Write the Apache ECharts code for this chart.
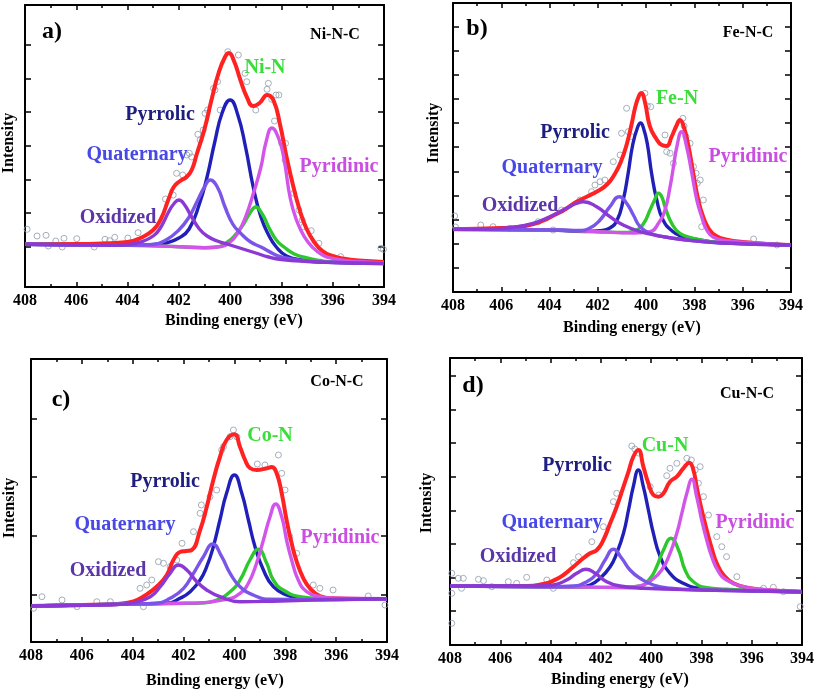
<!DOCTYPE html>
<html><head><meta charset="utf-8">
<script src="https://cdn.jsdelivr.net/npm/echarts@6/dist/echarts.min.js"></script>
<style>html,body{margin:0;padding:0;background:#fff}#c{width:817px;height:693px}</style>
</head><body><div id="c"></div>
<script>
// ---------- shared ----------
const energyTicks = [408, 406, 404, 402, 400, 398, 396, 394];
const componentNames = ['Pyrrolic', 'Quaternary', 'Oxidized', 'Pyridinic'];

// ---------- panel a : Ni-N-C ----------
const aEnvelope = [[408,43],[406,43],[405,43.5],[404,45],[403.5,49],[403,57],[402.7,68],[402.4,88],[402.2,100],[401.95,106],[401.7,110],[401.5,117],[401.3,133],[401.0,158],[400.7,190],[400.45,214],[400.2,230],[400.05,234],[399.85,226],[399.6,207],[399.35,190],[399.1,181],[398.85,184],[398.55,192],[398.3,186],[398.05,162],[397.8,130],[397.55,102],[397.3,78],[397.05,60],[396.75,46],[396.4,36],[396,31],[395.5,28],[395,26.5],[394,25]];
const aPyrrolic = [[408,42.7],[404,41.7],[403,42.5],[402.5,44],[402,49],[401.6,58],[401.2,83],[400.9,110],[400.6,145],[400.3,175],[400.0,187],[399.7,172],[399.4,140],[399.1,100],[398.8,70],[398.5,52],[398.2,40],[397.8,31],[397.2,27],[396.5,25],[394,23.7]];
const aQuaternary = [[408,42.7],[404,41.7],[403,42.5],[402.5,47],[402,57],[401.6,70],[401.3,85],[401.0,100],[400.78,107],[400.5,100],[400.2,80],[399.9,63],[399.6,54],[399.2,45],[398.8,40],[398.3,33],[398,30],[397,26],[396,24.7],[394,23.7]];
const aOxidized = [[408,42.7],[404.5,42],[404,42.5],[403.5,45],[403,51],[402.7,60],[402.4,75],[402.2,83],[402.0,87],[401.8,83],[401.5,70],[401.2,58],[400.9,51],[400.5,46],[400,42],[399.5,38],[399,34],[398.5,30],[398,27.5],[397,25.5],[396,24.5],[394,23.3]];
const aMetalN = [[408,42.7],[404,41.7],[402,40.3],[401,39.3],[400.5,40],[400.1,45],[399.8,52],[399.5,62],[399.25,73],[399.0,80],[398.75,73],[398.5,60],[398.2,47],[397.9,40],[397.5,33],[397,29],[396.5,26.5],[396,25],[394,24]];
const aPyridinic = [[408,42.7],[404,41.7],[402,40.3],[401,39.3],[400.4,40.3],[400,45],[399.7,54],[399.4,70],[399.1,93],[398.8,120],[398.6,145],[398.37,159],[398.1,148],[397.9,128],[397.65,88],[397.4,66],[397.1,50],[396.8,40],[396.4,32],[396,28.5],[395.4,26],[394.7,25],[394,24]];
const aRaw = [[407.92,57.7],[407.53,51],[407.18,51.7],[407.09,41],[406.8,46],[406.55,40],[406.48,48.7],[405.98,48.3],[405.3,40],[404.88,47.7],[404.7,46.3],[404.5,49.7],[403.99,49],[403.59,54.3],[402.52,88],[402.22,92],[402.09,113.7],[401.85,112],[401.69,132],[401.59,133.7],[401.5,130],[401.26,152.7],[401.17,147],[401.05,157],[400.98,173.7],[400.88,177],[400.65,198.7],[400.59,197],[400.49,205.3],[400.39,177],[400.09,235.3],[399.68,232],[399.42,213.7],[399.35,205.3],[399.0,177],[398.56,197.7],[398.51,203.7],[398.38,187.7],[398.27,166],[398.21,192],[398.1,192],[397.99,143.7],[397.86,127],[397.84,143.7],[397.52,93.7],[397.32,77],[397.19,67],[397.13,60.3],[396.84,56.3],[396.54,43.7],[395.69,30.3],[394.12,38.7],[394.02,37.7]];
const aIntensityTicks = [40, 74, 107, 141, 175, 208, 242];

// ---------- panel b : Fe-N-C ----------
const bEnvelope = [[408,62.7],[406,64],[405,66],[404.3,71],[403.8,77],[403.4,82],[402.9,90],[402.4,96],[402.0,101],[401.6,108],[401.3,118],[401.05,130],[400.8,148],[400.6,168],[400.45,185],[400.3,196],[400.2,199],[400.05,190],[399.85,166],[399.6,154],[399.35,147],[399.15,146],[398.95,155],[398.75,166],[398.6,172],[398.45,166],[398.25,146],[398.05,119],[397.85,93],[397.65,76],[397.4,63],[397.1,56],[396.6,52],[396,50],[395,48],[394,47]];
const bPyrrolic = [[408,62.7],[404,62],[402.5,60.5],[401.9,61.3],[401.5,64],[401.2,72],[400.95,92],[400.75,118],[400.55,148],[400.35,165],[400.23,169],[400.1,163],[399.95,148],[399.77,118],[399.56,92],[399.3,72],[398.9,60.5],[398.5,55.5],[398,53],[397,49.5],[396,48.5],[394,47]];
const bQuaternary = [[408,62.7],[404,62],[402.8,61.5],[402.33,64],[401.91,72],[401.5,85.3],[401.11,95.3],[400.81,88.7],[400.53,77],[400.25,65.3],[399.84,58.7],[399.29,55.3],[398.5,52.5],[397,49.3],[394,47]];
const bOxidized = [[408,62.7],[406.5,63],[405.65,64.3],[404.68,68.7],[403.99,75.3],[403.3,83.7],[402.9,88.5],[402.6,90.3],[402.05,85.3],[401.5,75.3],[400.95,67],[400.25,60.3],[399.29,55.3],[398.5,52.5],[397,49.3],[394,47]];
const bMetalN = [[408,62.7],[404,62],[402,60.3],[401,59.5],[400.4,62],[400.1,68.7],[399.84,82],[399.65,92],[399.49,98.7],[399.35,95],[399.22,85.3],[398.94,68.7],[398.6,58.7],[398.04,53.7],[397,49.5],[396,48.7],[394,47]];
const bPyridinic = [[408,62.7],[404,62],[402,60.3],[400.5,59],[399.84,60.3],[399.49,68.7],[399.22,82],[399.01,105],[398.87,125],[398.73,145],[398.53,160.3],[398.32,145],[398.11,119],[397.9,92],[397.7,75.3],[397.49,62],[397.21,54.7],[396.66,51.3],[395.97,49.7],[394,47]];
const bRaw = [[407.93,76],[407.9,65],[406.85,67],[406.34,65.3],[405.65,63.7],[404.47,70.3],[403.85,62],[403.5,82],[402.74,92],[402.26,100.3],[402.12,107],[401.91,110.3],[401.71,112],[401.36,130.3],[401.08,137],[401.02,158.7],[400.81,183.7],[400.74,160.3],[400.6,155.3],[400.05,198.7],[399.95,186],[399.81,185.3],[399.22,157],[399.15,140.3],[399.01,138.7],[398.87,128.7],[398.48,173.7],[398.43,166],[398.35,155.3],[398.18,148.7],[398.04,125.3],[397.93,118.7],[397.88,108.7],[397.76,112],[397.7,65.3],[397.63,92],[395.55,53],[394.58,47]];
const bIntensityTicks = [24, 48, 72, 96, 120, 145, 169, 193, 217, 241, 265];

// ---------- panel c : Co-N-C ----------
const cEnvelope = [[408,36],[406,37],[405,37.5],[404.6,38],[403.97,40.5],[403.58,45.5],[403.05,55.5],[402.66,67],[402.4,82],[402.14,90],[401.9,91],[401.68,92],[401.35,112],[401.09,135],[400.83,162],[400.57,185],[400.31,202],[400.0,207.7],[399.78,195],[399.58,182],[399.39,174],[399.13,172],[398.73,173.7],[398.54,175],[398.34,168.7],[398.14,148.7],[397.95,122],[397.75,98.7],[397.55,80.3],[397.29,63.7],[397.03,53.7],[396.64,46],[396.12,43.7],[395,43],[394,43]];
const cPyrrolic = [[408,36],[404,38],[402.66,38.7],[402.14,43.7],[401.74,50.3],[401.35,62],[401.09,75.3],[400.83,95.3],[400.57,122],[400.31,148.7],[400.0,167],[399.71,148.7],[399.45,122],[399.19,95.3],[398.86,72],[398.47,55.3],[397.95,47],[397.42,43.7],[396.5,42.5],[394,43.3]];
const cQuaternary = [[408,36],[404,38],[403.05,38.7],[402.53,43.7],[402.0,53.7],[401.61,68.7],[401.22,85.3],[400.85,98],[400.5,85.3],[400.17,68.7],[399.78,55.3],[399.26,47],[398.6,42.7],[397,42.5],[394,43.3]];
const cOxidized = [[408,36],[404.6,37.5],[403.97,39.3],[403.31,45.3],[402.92,55.3],[402.53,68.7],[402.2,77],[401.87,72],[401.48,60.3],[401.09,52],[400.57,45.3],[399.78,40.3],[398.5,40.8],[396,42.5],[394,43.3]];
const cMetalN = [[408,36],[404,38],[402,38.7],[401.35,39],[400.7,42],[400.17,50.3],[399.78,62],[399.39,82],[399.06,92.7],[398.73,78.7],[398.47,62],[398.08,52],[397.42,45.3],[396.77,43.7],[396,42.5],[394,43.3]];
const cPyridinic = [[408,36],[404,38],[402,38.7],[400.3,42.7],[399.78,48.7],[399.45,58.7],[399.13,78.7],[398.86,102],[398.6,125.3],[398.38,138],[398.14,125.3],[397.95,102],[397.75,82],[397.49,62],[397.16,50.3],[396.64,45.3],[396.12,43.7],[394,43.3]];
const cRaw = [[407.9,33.7],[407.57,45.3],[406.78,42],[406.19,35.3],[405.41,40.3],[404.88,40.3],[403.71,53.7],[403.58,35.3],[403.45,57],[403.25,62],[402.99,80.3],[402.79,78.7],[402.53,75.3],[402.27,82],[402.06,98.7],[401.61,110.3],[401.35,128.7],[401.3,137],[400.96,145.3],[400.7,152],[400.5,192],[400.43,195.3],[400.17,205.3],[400.04,212],[399.9,205],[399.1,178],[398.8,177],[398.27,187],[398.14,168.7],[398.01,152],[397.82,105.3],[397.55,88.7],[396.9,57],[396.64,53.7],[396.12,52],[394.74,46],[394.08,37]];
const cIntensityTicks = [47, 106, 165, 223];

// ---------- panel d : Cu-N-C ----------
const dEnvelope = [[408,59],[406,59],[404.95,59],[404.29,61],[403.89,64.3],[403.49,70],[403.09,78.3],[402.7,86.7],[402.43,91.7],[402.16,95],[401.9,105],[401.63,121.7],[401.37,138.3],[401.1,158.3],[400.9,173.3],[400.71,188.3],[400.51,195],[400.31,178.3],[400.11,161.7],[399.91,150],[399.71,148.3],[399.51,151.7],[399.25,163.3],[398.98,168.3],[398.72,176.7],[398.48,182.3],[398.32,175],[398.19,158.3],[397.99,135],[397.79,115],[397.59,96.7],[397.39,81.7],[397.12,70],[396.73,61.7],[396.06,56.7],[395,54.3],[394,53.3]];
const dPyrrolic = [[408,59],[404,58.3],[402.9,58],[402.43,60],[402.03,66.7],[401.63,78.3],[401.37,91.7],[401.1,111.7],[400.9,135],[400.71,158.3],[400.51,175],[400.31,158.3],[400.11,135],[399.91,111.7],[399.64,88.3],[399.25,71.7],[398.72,61.7],[398.05,56.7],[397,55],[394,53.3]];
const dQuaternary = [[408,59],[404,58.3],[403.09,59],[402.56,63.3],[402.16,71.7],[401.83,85],[401.5,95.7],[401.17,86.7],[400.84,75],[400.44,66.7],[399.91,60],[399.25,56.7],[398,55],[394,53.3]];
const dOxidized = [[408,59],[404.5,59],[403.89,60],[403.36,65],[402.96,71.7],[402.59,75.7],[402.23,71.7],[401.77,63.3],[401.24,59],[400.31,56.7],[398,55],[394,53.3]];
const dMetalN = [[408,59],[404,58.3],[401,57.5],[400.44,59],[400.04,66.7],[399.78,78.3],[399.51,95],[399.21,106.7],[398.91,95],[398.65,75],[398.32,63.3],[397.79,57.3],[397,55.7],[396,54.3],[394,53.3]];
const dPyridinic = [[408,59],[404,58.3],[401,57.5],[400.44,59],[399.98,65],[399.58,75],[399.25,91.7],[398.98,111.7],[398.78,131.7],[398.58,151.7],[398.38,165.7],[398.19,148.3],[397.99,125],[397.79,105],[397.59,88.3],[397.32,73.3],[397.0,65],[396.33,58.3],[395.67,55.7],[394,53.3]];
const dRaw = [[407.93,71.7],[407.93,51.7],[407.93,21.7],[407.67,66.7],[407.47,66.7],[407.54,56.7],[406.87,65.7],[406.67,64.3],[406.34,58.3],[405.68,63.3],[405.35,61.7],[404.95,67.7],[404.15,65],[403.89,56.7],[403.09,82.3],[402.89,88.3],[402.36,103.3],[401.9,118.3],[401.5,143.3],[401.37,151.7],[400.77,199],[400.65,196],[400.5,192],[400.04,158.3],[399.7,150],[399.38,169.3],[399.25,176.7],[398.98,181.7],[398.58,186.7],[398.4,185],[398.25,175],[398.12,161.7],[398.05,178.3],[397.92,148.3],[397.72,130],[397.39,108.3],[397.19,98.3],[397.0,88.3],[396.59,68.3],[395.53,56.7],[395.14,57.7],[394.74,53.3],[394.07,38.3]];
const dIntensityTicks = [34, 67, 101, 134, 168, 202, 235, 269];

// ---------- layout / style ----------
const FONT = '"Liberation Serif","Times New Roman",serif';
const LINE = { envelope:'#ff2222', Pyrrolic:'#2020b8', Quaternary:'#7a55ea', Oxidized:'#8c38d4', Pyridinic:'#d255ea', MetalN:'#2ec82e', raw:'#8d9cab' };
const TEXT = { Pyrrolic:'#1e1e80', Quaternary:'#4848e6', Oxidized:'#5b36a8', Pyridinic:'#cb4ee2', MetalN:'#3ade3a' };

const panels = [
  { tag:'a)', sample:'Ni-N-C', mn:'Ni-N', grid:{left:25, top:5, width:359, height:282},
    data:{envelope:aEnvelope, Pyrrolic:aPyrrolic, Quaternary:aQuaternary, Oxidized:aOxidized, MetalN:aMetalN, Pyridinic:aPyridinic, raw:aRaw}, ticks:aIntensityTicks,
    pos:{tag:[52,32], sample:[335,35], Pyrrolic:[160,115], Quaternary:[137,155], Oxidized:[118,218], Pyridinic:[339,167], MetalN:[265,68], yname:[9,143], xname:[234,321]} },
  { tag:'b)', sample:'Fe-N-C', mn:'Fe-N', grid:{left:453, top:3, width:338, height:289},
    data:{envelope:bEnvelope, Pyrrolic:bPyrrolic, Quaternary:bQuaternary, Oxidized:bOxidized, MetalN:bMetalN, Pyridinic:bPyridinic, raw:bRaw}, ticks:bIntensityTicks,
    pos:{tag:[477,29], sample:[748,33], Pyrrolic:[575,133], Quaternary:[552,168], Oxidized:[520,206], Pyridinic:[748,157], MetalN:[677,99], yname:[434,133], xname:[632,328]} },
  { tag:'c)', sample:'Co-N-C', mn:'Co-N', grid:{left:31, top:359, width:356, height:283},
    data:{envelope:cEnvelope, Pyrrolic:cPyrrolic, Quaternary:cQuaternary, Oxidized:cOxidized, MetalN:cMetalN, Pyridinic:cPyridinic, raw:cRaw}, ticks:cIntensityTicks,
    pos:{tag:[61,400], sample:[337,382], Pyrrolic:[165,482], Quaternary:[125,525], Oxidized:[108,571], Pyridinic:[340,538], MetalN:[270,436], yname:[10,508], xname:[215,681]} },
  { tag:'d)', sample:'Cu-N-C', mn:'Cu-N', grid:{left:450, top:358, width:352, height:287},
    data:{envelope:dEnvelope, Pyrrolic:dPyrrolic, Quaternary:dQuaternary, Oxidized:dOxidized, MetalN:dMetalN, Pyridinic:dPyridinic, raw:dRaw}, ticks:dIntensityTicks,
    pos:{tag:[473,386], sample:[747,394], Pyrrolic:[577,466], Quaternary:[552,523], Oxidized:[518,557], Pyridinic:[755,523], MetalN:[665,446], yname:[427,503], xname:[620,680]} }
];

const grids = [], xAxes = [], yAxes = [], series = [], graphics = [];
const axisLine = { show:true, onZero:false, lineStyle:{ color:'#000', width:2 } };

function txt(str, p, size, color, rot) {
  return { type:'text', x:p[0], y:p[1], rotation: rot || 0, z:100,
    style:{ text:str, font:'bold ' + size + 'px ' + FONT, fill:color,
      align:'center', verticalAlign:'middle', textAlign:'center', textVerticalAlign:'middle' } };
}

panels.forEach((p, i) => {
  grids.push(Object.assign({ containLabel:false }, p.grid));
  const xBase = { type:'value', gridIndex:i, min:394, max:408, inverse:true, interval:2,
    axisLine, splitLine:{show:false},
    axisTick:{ show:true, inside:true, length:5, lineStyle:{color:'#000', width:1.5} },
    minorTick:{ show:true, splitNumber:2, length:3, lineStyle:{color:'#000', width:1.5} } };
  xAxes.push(Object.assign({}, xBase, { position:'bottom',
    axisLabel:{ show:true, margin:6, color:'#000', fontFamily:FONT, fontWeight:'bold', fontSize:16,
      showMinLabel:true, showMaxLabel:true, customValues: energyTicks } }));
  xAxes.push(Object.assign({}, xBase, { position:'top', axisLabel:{show:false} }));
  const yBase = { type:'value', gridIndex:i, min:0, max:p.grid.height, axisLine, splitLine:{show:false},
    axisLabel:{show:false},
    axisTick:{ show:true, inside:true, length:6, customValues:p.ticks, lineStyle:{color:'#000', width:1.5} } };
  yAxes.push(Object.assign({}, yBase, { position:'left' }));
  yAxes.push(Object.assign({}, yBase, { position:'right' }));

  const xi = 2 * i, yi = 2 * i;
  series.push({ type:'scatter', name:'Raw', xAxisIndex:xi, yAxisIndex:yi, data:p.data.raw,
    symbol:'circle', symbolSize:6, silent:true, z:1,
    itemStyle:{ color:'rgba(255,255,255,0)', borderColor:LINE.raw, borderWidth:1 } });
  const order = ['envelope', 'Pyrrolic', 'MetalN', 'Pyridinic', 'Quaternary', 'Oxidized'];
  order.forEach((k, j) => {
    series.push({ type:'line', name:k, xAxisIndex:xi, yAxisIndex:yi, data:p.data[k],
      showSymbol:false, symbol:'none', smooth:0.5, silent:true, z:2 + j,
      lineStyle:{ color:LINE[k], width: k === 'envelope' ? 4 : 3.4 } });
  });

  graphics.push(txt(p.tag, p.pos.tag, 24, '#000'));
  graphics.push(txt(p.sample, p.pos.sample, 16, '#000'));
  componentNames.forEach(k => graphics.push(txt(k, p.pos[k], 20, TEXT[k])));
  graphics.push(txt(p.mn, p.pos.MetalN, 20, TEXT.MetalN));
  graphics.push(txt('Intensity', p.pos.yname, 16, '#000', Math.PI / 2));
  graphics.push(txt('Binding energy (eV)', p.pos.xname, 16, '#000'));
});

const chart = echarts.init(document.getElementById('c'), null, { renderer:'canvas' });
chart.setOption({ animation:false, backgroundColor:'#fff', grid:grids, xAxis:xAxes, yAxis:yAxes, series, graphic:{ elements:graphics } });
</script></body></html>
